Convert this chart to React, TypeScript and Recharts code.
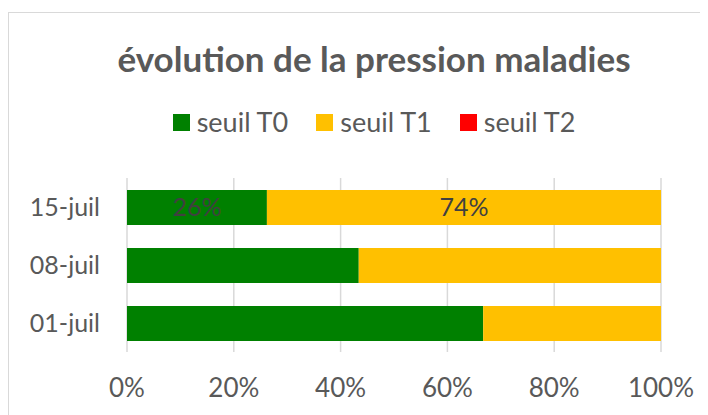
import { Bar, BarChart, CartesianGrid, LabelList, Legend, XAxis, YAxis } from "recharts";

const dates = ["15-juil", "08-juil", "01-juil"];
const seuilT0 = [26.2, 43.4, 66.7];
const seuilT1 = [73.8, 56.6, 33.3];
const seuilT2 = [0, 0, 0];
const labelsT0 = ["26%", null, null];
const labelsT1 = ["74%", null, null];
const xTicks = [0, 20, 40, 60, 80, 100];

const series = [
  { key: "t0", name: "seuil T0", color: "#008000", label: "lblT0" },
  { key: "t1", name: "seuil T1", color: "#FFC000", label: "lblT1" },
  { key: "t2", name: "seuil T2", color: "#FF0000", label: null },
];

const data = dates.map((d, i) => ({
  date: d,
  t0: seuilT0[i],
  t1: seuilT1[i],
  t2: seuilT2[i],
  lblT0: labelsT0[i],
  lblT1: labelsT1[i],
}));

const FONT = "Lato, 'Open Sans', sans-serif";
const TEXT = "#595959";

const renderLegend = () => (
  <div
    style={{
      display: "flex",
      justifyContent: "center",
      gap: 28,
      fontSize: 27,
      lineHeight: "26px",
      color: TEXT,
      fontFamily: FONT,
    }}
  >
    {series.map((s) => (
      <span key={s.key} style={{ display: "flex", alignItems: "center" }}>
        <span style={{ width: 17, height: 17, background: s.color, marginRight: 7 }} />
        {s.name}
      </span>
    ))}
  </div>
);

export default function App() {
  return (
    <div
      style={{
        position: "relative",
        marginTop: 4,
        width: 699,
        height: 402,
        borderTop: "1px solid #D9D9D9",
        borderLeft: "1px solid #D9D9D9",
        overflow: "hidden",
        fontFamily: FONT,
      }}
    >
      <div
        style={{
          position: "absolute",
          top: 24,
          left: 0,
          width: 730,
          textAlign: "center",
          fontSize: 35,
          fontWeight: 700,
          lineHeight: "42px",
          color: TEXT,
        }}
      >
        évolution de la pression maladies
      </div>
      <BarChart
        width={699}
        height={402}
        data={data}
        layout="vertical"
        barSize={35}
        margin={{ top: 139, right: 47, left: 0, bottom: 0 }}
      >
        <CartesianGrid horizontal={false} stroke="#D9D9D9" strokeWidth={1.5} />
        <XAxis
          type="number"
          domain={[0, 100]}
          ticks={xTicks}
          tickFormatter={(v) => `${v}%`}
          axisLine={false}
          tickLine={false}
          tickSize={0}
          tickMargin={27}
          height={63}
          tick={{ fontSize: 26, fill: TEXT, fontFamily: FONT }}
        />
        <YAxis
          type="category"
          dataKey="date"
          axisLine={false}
          tickLine={false}
          tickSize={0}
          tickMargin={27}
          width={118}
          tick={{ fontSize: 25, fill: TEXT, fontFamily: FONT }}
        />
        <Legend
          verticalAlign="top"
          content={renderLegend}
          wrapperStyle={{ top: 96, left: 0, width: 730 }}
        />
        {series.map((s) => (
          <Bar
            key={s.key}
            dataKey={s.key}
            name={s.name}
            stackId="a"
            fill={s.color}
            isAnimationActive={false}
          >
            {s.label && (
              <LabelList
                dataKey={s.label}
                position="center"
                style={{ fontSize: 25, fill: "#404040", fontFamily: FONT }}
              />
            )}
          </Bar>
        ))}
      </BarChart>
    </div>
  );
}
